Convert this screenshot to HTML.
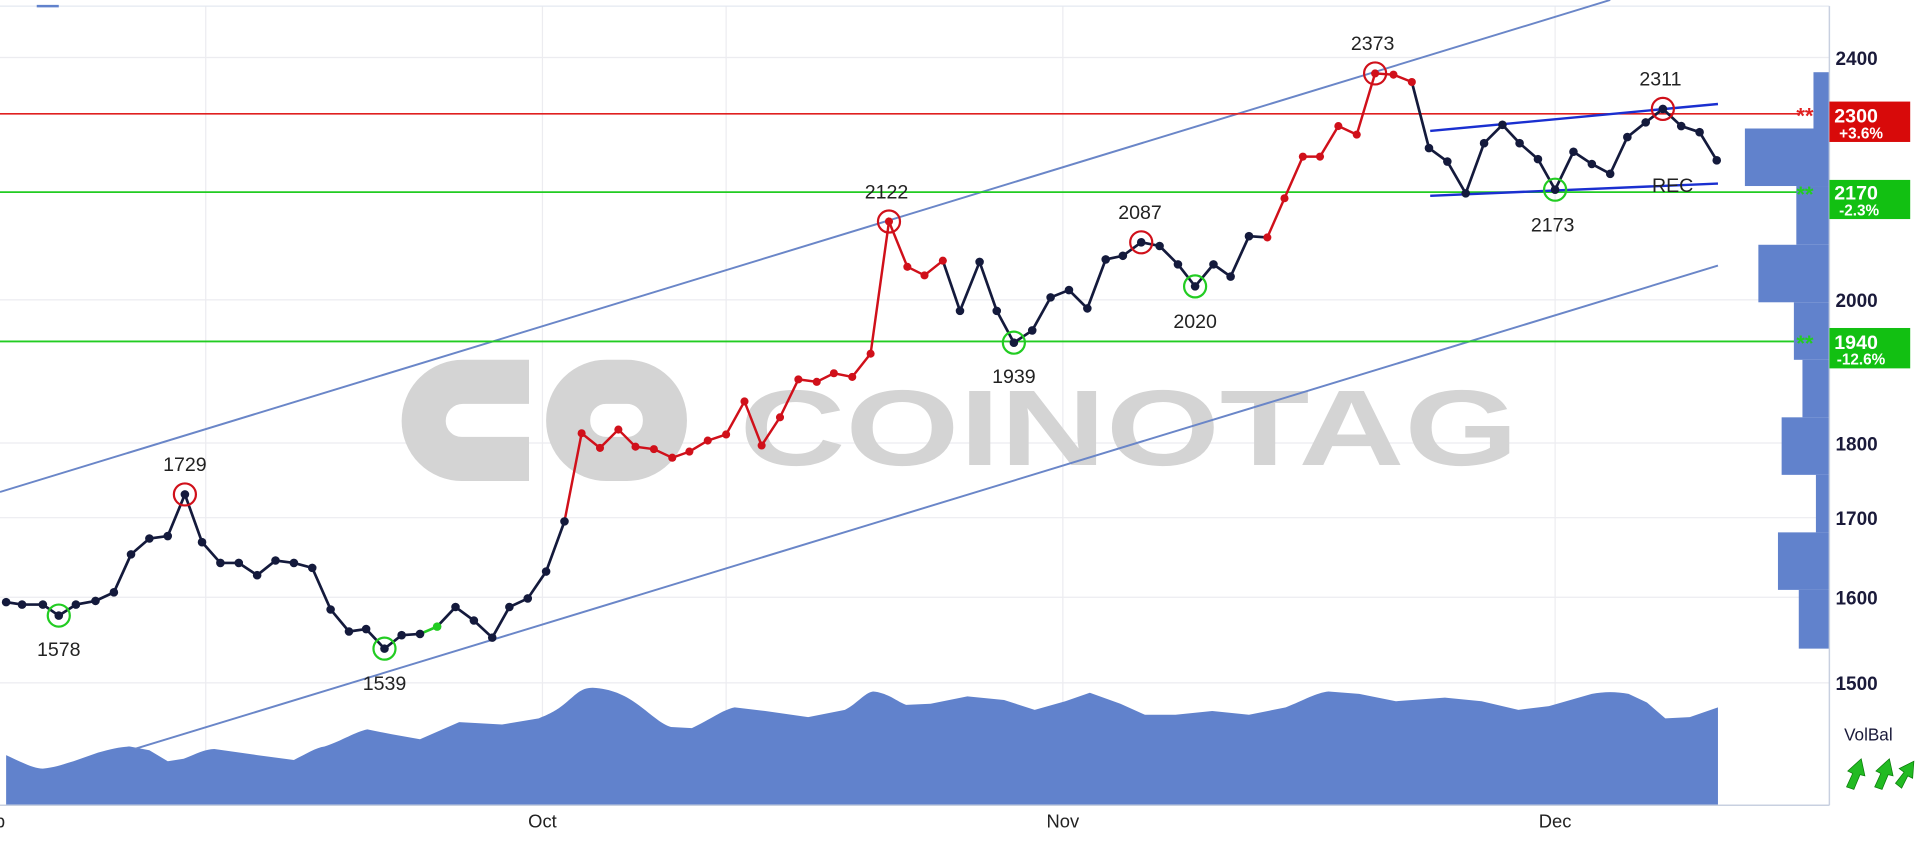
<!DOCTYPE html>
<html><head><meta charset="utf-8"><style>
html,body{margin:0;padding:0;background:#fff;}
svg{display:block;}
text{font-family:"Liberation Sans",sans-serif;}
</style></head><body>
<svg width="1920" height="842" viewBox="0 0 1568 688" preserveAspectRatio="none">
<rect width="1568" height="688" fill="#fff"/>
<!-- grid -->
<g stroke="#ececf0" stroke-width="1">
<line x1="0" y1="47" x2="1494" y2="47"/>
<line x1="0" y1="157" x2="1494" y2="157"/>
<line x1="0" y1="245" x2="1494" y2="245"/>
<line x1="0" y1="362" x2="1494" y2="362"/>
<line x1="0" y1="423" x2="1494" y2="423"/>
<line x1="0" y1="488" x2="1494" y2="488"/>
<line x1="0" y1="558" x2="1494" y2="558"/>
<line x1="168" y1="5" x2="168" y2="658"/>
<line x1="443" y1="5" x2="443" y2="658"/>
<line x1="593" y1="5" x2="593" y2="658"/>
<line x1="868" y1="5" x2="868" y2="658"/>
<line x1="1270" y1="5" x2="1270" y2="658"/>
</g>
<line x1="0" y1="5" x2="1494" y2="5" stroke="#e4e8f0"/>
<line x1="30" y1="5" x2="48" y2="5" stroke="#6182cc" stroke-width="2"/>
<!-- watermark -->
<g fill="none" stroke="#d4d4d4" stroke-width="36">
<path d="M432,312 L378,312 A32,32 0 0 0 346,344 L346,344 A31,31 0 0 0 377,375 L432,375"/>
<rect x="464" y="312" width="79" height="63" rx="31" ry="31"/>
</g>
<text x="604" y="380" font-size="88" font-weight="bold" fill="#d4d4d4" textLength="636" lengthAdjust="spacingAndGlyphs">COINOTAG</text>
<!-- volume area -->
<path fill="#6182cc" d="M5,658 L5,617 C20,624 28,628 35,628 C45,627 50,625 60,622 L80,615 C90,612 100,610 106,610 L122,613 L137,622 L150,620 C160,616 168,612 175,612 L210,617 L240,621 C250,616 258,611 265,610 C280,605 290,598 300,596 L320,600 L343,604 L375,590 L410,592 L440,587 C450,583 455,580 460,576 C470,568 474,562 484,562 C500,563 510,568 520,575 C530,582 540,592 548,594 L565,595 C580,588 590,580 600,578 L625,581 L660,586 L690,580 C700,575 706,566 713,565 C725,566 732,573 740,576 L760,575 L790,569 L820,572 L845,580 L870,573 L890,566 L915,575 L935,584 L960,584 L990,581 L1020,584 L1050,578 C1065,572 1075,566 1085,565 L1110,567 L1140,573 L1180,570 L1210,573 L1240,580 L1265,577 L1300,567 C1310,565 1320,565 1330,567 L1345,574 L1360,587 L1380,586 L1403,578 L1403,658 Z"/>
<!-- channel lines -->
<g stroke="#6a86c8" stroke-width="1.6">
<line x1="0" y1="402" x2="1315" y2="0"/>
<line x1="110" y1="612" x2="1403" y2="217"/>
</g>
<!-- horizontal levels -->
<line x1="0" y1="93" x2="1470" y2="93" stroke="#e02020" stroke-width="1.3"/>
<line x1="0" y1="157" x2="1470" y2="157" stroke="#22cc22" stroke-width="1.5"/>
<line x1="0" y1="279" x2="1470" y2="279" stroke="#22cc22" stroke-width="1.5"/>
<!-- volume profile -->
<g fill="#6182cc">
<rect x="1481" y="59" width="13" height="46"/>
<rect x="1425" y="105" width="69" height="47"/>
<rect x="1467" y="152" width="27" height="48"/>
<rect x="1436" y="200" width="58" height="47"/>
<rect x="1465" y="247" width="29" height="47"/>
<rect x="1472" y="294" width="22" height="47"/>
<rect x="1455" y="341" width="39" height="47"/>
<rect x="1483" y="388" width="11" height="47"/>
<rect x="1452" y="435" width="42" height="47"/>
<rect x="1469" y="482" width="25" height="48"/>
</g>
<!-- wedge -->
<g stroke="#1a2fd0" stroke-width="2">
<line x1="1168" y1="107" x2="1403" y2="85"/>
<line x1="1168" y1="160" x2="1403" y2="150"/>
</g>
<!-- price line dark -->
<polyline fill="none" stroke="#141a3c" stroke-width="2.2" points="5,492 18,494 35,494 48,503 62,494 78,491 93,484 107,453 122,440 137,438 151,404 165,443 180,460 195,460 210,470 225,458 240,460 255,464 270,498 285,516 299,514 314,530 328,519 343,518"/>
<polyline fill="none" stroke="#22cc22" stroke-width="2.2" points="343,518 357,512"/>
<polyline fill="none" stroke="#141a3c" stroke-width="2.2" points="357,512 372,496 387,507 402,521 416,496 431,489 446,467 461,426"/>
<polyline fill="none" stroke="#d0101a" stroke-width="2" points="461,426 475,354 490,366 505,351 519,365 534,367 549,374 563,369 578,360 593,355 608,328 622,364 637,341 652,310 667,312 681,305 696,308 711,289 726,181 741,218 755,225 770,213"/>
<polyline fill="none" stroke="#141a3c" stroke-width="2.2" points="770,213 784,254 800,214 814,254 828,280 843,270 858,243 873,237 888,252 903,212 917,209 932,198 947,201 962,216 976,234 991,216 1005,226 1020,193 1035,194"/>
<polyline fill="none" stroke="#d0101a" stroke-width="2" points="1035,194 1049,162 1064,128 1078,128 1093,103 1108,110 1123,60 1138,61 1153,67"/>
<polyline fill="none" stroke="#141a3c" stroke-width="2.2" points="1153,67 1167,121 1182,132 1197,158 1212,117 1227,102 1241,117 1256,130 1270,155 1285,124 1300,134 1315,142 1329,112 1344,100 1358,89 1373,103 1388,108 1402,131"/>
<g fill="#141a3c">
<circle cx="5" cy="492" r="3.5"/><circle cx="18" cy="494" r="3.5"/><circle cx="35" cy="494" r="3.5"/><circle cx="48" cy="503" r="3.5"/><circle cx="62" cy="494" r="3.5"/><circle cx="78" cy="491" r="3.5"/><circle cx="93" cy="484" r="3.5"/><circle cx="107" cy="453" r="3.5"/><circle cx="122" cy="440" r="3.5"/><circle cx="137" cy="438" r="3.5"/><circle cx="151" cy="404" r="3.5"/><circle cx="165" cy="443" r="3.5"/><circle cx="180" cy="460" r="3.5"/><circle cx="195" cy="460" r="3.5"/><circle cx="210" cy="470" r="3.5"/><circle cx="225" cy="458" r="3.5"/><circle cx="240" cy="460" r="3.5"/><circle cx="255" cy="464" r="3.5"/><circle cx="270" cy="498" r="3.5"/><circle cx="285" cy="516" r="3.5"/><circle cx="299" cy="514" r="3.5"/><circle cx="314" cy="530" r="3.5"/><circle cx="328" cy="519" r="3.5"/><circle cx="343" cy="518" r="3.5"/><circle cx="372" cy="496" r="3.5"/><circle cx="387" cy="507" r="3.5"/><circle cx="402" cy="521" r="3.5"/><circle cx="416" cy="496" r="3.5"/><circle cx="431" cy="489" r="3.5"/><circle cx="446" cy="467" r="3.5"/><circle cx="461" cy="426" r="3.5"/>
<circle cx="784" cy="254" r="3.5"/><circle cx="800" cy="214" r="3.5"/><circle cx="814" cy="254" r="3.5"/><circle cx="828" cy="280" r="3.5"/><circle cx="843" cy="270" r="3.5"/><circle cx="858" cy="243" r="3.5"/><circle cx="873" cy="237" r="3.5"/><circle cx="888" cy="252" r="3.5"/><circle cx="903" cy="212" r="3.5"/><circle cx="917" cy="209" r="3.5"/><circle cx="932" cy="198" r="3.5"/><circle cx="947" cy="201" r="3.5"/><circle cx="962" cy="216" r="3.5"/><circle cx="976" cy="234" r="3.5"/><circle cx="991" cy="216" r="3.5"/><circle cx="1005" cy="226" r="3.5"/><circle cx="1020" cy="193" r="3.5"/>
<circle cx="1167" cy="121" r="3.5"/><circle cx="1182" cy="132" r="3.5"/><circle cx="1197" cy="158" r="3.5"/><circle cx="1212" cy="117" r="3.5"/><circle cx="1227" cy="102" r="3.5"/><circle cx="1241" cy="117" r="3.5"/><circle cx="1256" cy="130" r="3.5"/><circle cx="1270" cy="155" r="3.5"/><circle cx="1285" cy="124" r="3.5"/><circle cx="1300" cy="134" r="3.5"/><circle cx="1315" cy="142" r="3.5"/><circle cx="1329" cy="112" r="3.5"/><circle cx="1344" cy="100" r="3.5"/><circle cx="1358" cy="89" r="3.5"/><circle cx="1373" cy="103" r="3.5"/><circle cx="1388" cy="108" r="3.5"/><circle cx="1402" cy="131" r="3.5"/>
</g>
<circle cx="357" cy="512" r="3.5" fill="#22cc22"/>
<g fill="#d0101a">
<circle cx="475" cy="354" r="3.3"/><circle cx="490" cy="366" r="3.3"/><circle cx="505" cy="351" r="3.3"/><circle cx="519" cy="365" r="3.3"/><circle cx="534" cy="367" r="3.3"/><circle cx="549" cy="374" r="3.3"/><circle cx="563" cy="369" r="3.3"/><circle cx="578" cy="360" r="3.3"/><circle cx="593" cy="355" r="3.3"/><circle cx="608" cy="328" r="3.3"/><circle cx="622" cy="364" r="3.3"/><circle cx="637" cy="341" r="3.3"/><circle cx="652" cy="310" r="3.3"/><circle cx="667" cy="312" r="3.3"/><circle cx="681" cy="305" r="3.3"/><circle cx="696" cy="308" r="3.3"/><circle cx="711" cy="289" r="3.3"/><circle cx="726" cy="181" r="3.3"/><circle cx="741" cy="218" r="3.3"/><circle cx="755" cy="225" r="3.3"/><circle cx="770" cy="213" r="3.3"/>
<circle cx="1035" cy="194" r="3.3"/><circle cx="1049" cy="162" r="3.3"/><circle cx="1064" cy="128" r="3.3"/><circle cx="1078" cy="128" r="3.3"/><circle cx="1093" cy="103" r="3.3"/><circle cx="1108" cy="110" r="3.3"/><circle cx="1123" cy="60" r="3.3"/><circle cx="1138" cy="61" r="3.3"/><circle cx="1153" cy="67" r="3.3"/>
</g>
<!-- pivot circles -->
<g fill="none" stroke-width="1.8">
<circle cx="151" cy="404" r="9" stroke="#d0101a"/>
<circle cx="726" cy="181" r="9" stroke="#d0101a"/>
<circle cx="932" cy="198" r="9" stroke="#d0101a"/>
<circle cx="1123" cy="60" r="9" stroke="#d0101a"/>
<circle cx="1358" cy="89" r="9" stroke="#d0101a"/>
<circle cx="48" cy="503" r="9" stroke="#22cc22"/>
<circle cx="314" cy="530" r="9" stroke="#22cc22"/>
<circle cx="828" cy="280" r="9" stroke="#22cc22"/>
<circle cx="976" cy="234" r="9" stroke="#22cc22"/>
<circle cx="1270" cy="155" r="9" stroke="#22cc22"/>
</g>
<!-- pivot labels -->
<g font-size="16" fill="#222" text-anchor="middle">
<text x="151" y="385">1729</text>
<text x="48" y="536">1578</text>
<text x="314" y="564">1539</text>
<text x="724" y="162">2122</text>
<text x="828" y="313">1939</text>
<text x="931" y="179">2087</text>
<text x="976" y="268">2020</text>
<text x="1121" y="41">2373</text>
<text x="1356" y="70">2311</text>
<text x="1268" y="189">2173</text>
<text x="1366" y="157">REC</text>
</g>
<!-- borders -->
<line x1="1494" y1="5" x2="1494" y2="658" stroke="#c8d0e0" stroke-width="1.2"/>
<line x1="0" y1="658" x2="1494" y2="658" stroke="#c8d0e0" stroke-width="1.2"/>
<!-- level markers -->
<text x="1467" y="101" font-size="18" font-weight="bold" fill="#e02020">**</text>
<text x="1467" y="165" font-size="18" font-weight="bold" fill="#22cc22">**</text>
<text x="1467" y="287" font-size="18" font-weight="bold" fill="#22cc22">**</text>
<!-- y axis labels -->
<g font-size="15.5" fill="#1a1a3a" font-weight="bold">
<text x="1499" y="53">2400</text>
<text x="1499" y="163">2200</text>
<text x="1499" y="251">2000</text>
<text x="1499" y="368">1800</text>
<text x="1499" y="429">1700</text>
<text x="1499" y="494">1600</text>
<text x="1499" y="564">1500</text>
</g>
<rect x="1494" y="83" width="66" height="33" fill="#d80a0a"/>
<rect x="1494" y="147" width="66" height="32" fill="#12c012"/>
<rect x="1494" y="268" width="66" height="33" fill="#12c012"/>
<g fill="#fff" font-weight="bold">
<text x="1498" y="100" font-size="16">2300</text>
<text x="1502" y="113" font-size="12.5">+3.6%</text>
<text x="1498" y="163" font-size="16">2170</text>
<text x="1502" y="176" font-size="12.5">-2.3%</text>
<text x="1498" y="285" font-size="16">1940</text>
<text x="1500" y="298" font-size="12.5">-12.6%</text>
</g>
<text x="1506" y="605" font-size="14" fill="#1a1a3a">VolBal</text>
<g fill="#22bb22" stroke="#0a7a0a" stroke-width="0.6">
<path d="M1508,643 L1513,632 L1509,630 L1520,620 L1523,634 L1519,633 L1514,645 Z"/>
<path d="M1531,643 L1536,632 L1532,630 L1543,620 L1546,634 L1542,633 L1537,645 Z"/>
<path d="M1548,640 L1555,631 L1551,628 L1563,622 L1562,636 L1558,634 L1553,644 Z"/>
</g>
<!-- x labels -->
<g font-size="15" fill="#222" text-anchor="middle">
<text x="443" y="676">Oct</text>
<text x="868" y="676">Nov</text>
<text x="1270" y="676">Dec</text>
<text x="0" y="676">p</text>
</g>
</svg>
</body></html>
